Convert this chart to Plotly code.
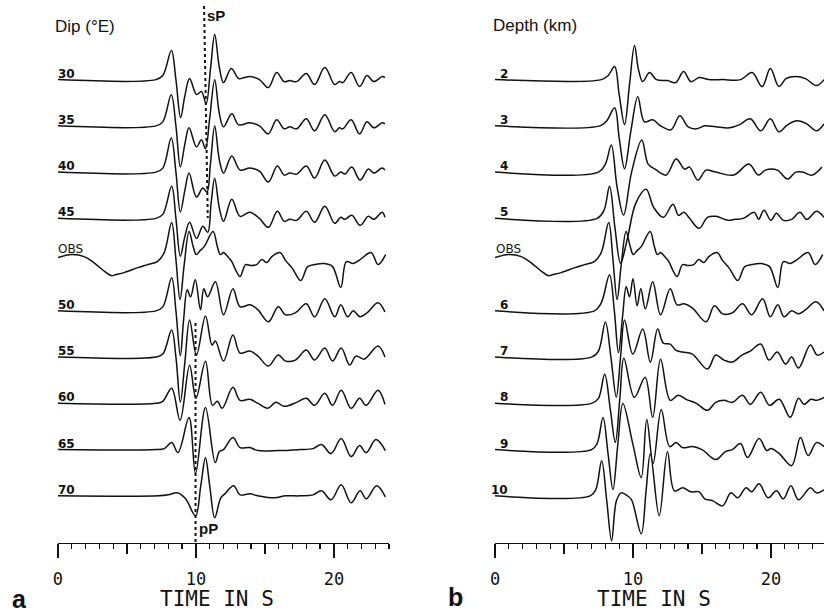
import plotly.graph_objects as go

# ---------------- data (time in s, amplitude in plot units) ----------------
DIP_LABELS = ["30", "35", "40", "45", "OBS", "50", "55", "60", "65", "70"]
DEPTH_LABELS = ["2", "3", "4", "5", "OBS", "6", "7", "8", "9", "10"]
TICK_VALUES = [0, 10, 20]
TICK_TEXT = ["0", "10", "20"]
MID_TICKS = [5, 15]

OBS = [(0, 7), (1.0, 10), (1.9, 8), (2.6, 2), (3.4, -7), (3.85, -11), (4.2, -10), (4.8, -8),
       (5.8, -3), (6.5, 0), (7.2, 3), (7.7, 12), (8.24, 42), (8.55, 5), (8.85, -35), (9.15, 0),
       (9.5, 33), (9.8, 18), (10.02, 10), (10.3, 14), (10.6, 18), (11.24, 33), (11.55, 18),
       (11.77, 10), (12.0, 12), (12.3, 8), (12.6, 3), (12.9, -6), (13.2, -12), (13.6, 0),
       (14.0, -1), (14.4, 0), (14.77, 5), (15.15, 2), (15.5, 8), (16.1, 12), (16.5, 4),
       (17.0, -4), (17.6, -16), (18.1, -2), (18.6, 0), (19.3, 1), (19.9, -2), (20.5, -23),
       (20.9, 3), (21.4, 1), (21.9, 5), (22.7, 12), (23.2, 0), (23.75, 10)]

DIP_30 = [(0, 0), (7.1, 0), (7.6, 4), (8.22, 29), (8.55, 0), (8.89, -38), (9.2, -16), (9.54, 1),
          (10.05, -15), (10.4, -12), (10.74, -24), (11.05, 10), (11.36, 45), (11.7, 12), (12.0, -3),
          (12.56, 11), (13.1, 1), (13.5, 2), (13.9, 3), (14.6, 0), (15.25, -8), (15.85, 7),
          (16.4, -2), (16.8, -1), (17.3, -2), (18.0, 6), (18.6, -5), (19.34, 12), (20.06, -5),
          (20.4, -2), (20.65, -3), (21.25, 7), (21.86, -7), (22.4, 4), (22.9, -2), (23.5, 3), (23.7, 2)]
DIP_35 = [(0, 0), (7.1, 0), (7.6, 4), (8.21, 31), (8.55, 0), (8.87, -41), (9.2, -18), (9.5, -2),
          (10.04, -21), (10.4, -14), (10.69, -23), (11.0, 8), (11.36, 46), (11.7, 12), (12.0, -1),
          (12.6, 12), (13.1, 1), (13.9, 3), (14.6, 0), (15.25, -8), (15.85, 6), (16.4, -3),
          (16.8, -1), (17.3, -3), (18.0, 7), (18.6, -5), (19.34, 11), (20.06, -6), (20.4, -2),
          (20.65, -3), (21.25, 6), (21.86, -8), (22.4, 4), (22.9, -2), (23.5, 3), (23.7, 2)]
DIP_40 = [(0, 0), (7.1, 0), (7.6, 4), (8.21, 34), (8.55, 0), (8.87, -40), (9.2, -18), (9.5, -1),
          (10.04, -25), (10.5, -16), (10.8, -20), (11.05, 8), (11.36, 46), (11.7, 12), (12.0, -1),
          (12.6, 16), (13.2, 2), (13.9, 4), (14.6, 1), (15.25, -10), (15.9, 6), (16.4, -3),
          (16.8, -1), (17.3, -2), (18.0, 6), (18.6, -6), (19.34, 12), (20.06, -4), (20.5, 0),
          (20.8, -2), (21.3, 5), (21.9, -8), (22.5, 3), (22.9, -1), (23.5, 4), (23.7, 2)]
DIP_45 = [(0, 0), (7.1, 0), (7.6, 4), (8.24, 32), (8.55, 0), (8.87, -38), (9.2, -18), (9.54, -4),
          (10.04, -20), (10.5, -8), (10.86, -14), (11.1, 15), (11.36, 40), (11.7, 10), (12.0, -3),
          (12.6, 19), (13.2, 2), (13.9, 6), (14.6, 0), (15.25, -9), (15.9, 7), (16.4, -3),
          (16.8, -1), (17.3, -2), (18.0, 7), (18.6, -4), (19.34, 12), (20.06, -5), (20.5, 1),
          (20.8, -1), (21.3, 3), (21.9, -7), (22.5, 2), (22.9, -1), (23.5, 6), (23.7, 1)]
DIP_50 = [(0, 0), (7.1, 0), (7.6, 4), (8.24, 33), (8.55, 0), (8.87, -45), (9.1, -10), (9.37, 21),
          (9.61, 14), (9.95, 31), (10.33, 1), (10.57, 22), (10.85, 14), (11.41, 29), (12.0, -4),
          (12.68, 22), (13.2, 4), (13.93, 6), (14.5, 1), (15.25, -11), (15.97, 4), (16.5, -4),
          (17.2, -2), (18.0, 7), (18.6, -6), (19.34, 12), (20.06, -6), (20.5, 6), (21.0, -6),
          (21.4, 0), (21.9, -6), (22.4, -2), (23.2, 8), (23.7, -1)]
DIP_55 = [(0, 0), (7.1, 0), (7.6, 3), (8.24, 27), (8.55, 0), (8.87, -45), (9.2, -5), (9.54, 37),
          (10.04, 2), (10.69, 41), (11.17, 12), (11.41, 16), (12.0, -4), (12.68, 22), (13.2, 4),
          (13.9, 6), (14.5, 1), (15.25, -9), (15.97, 2), (16.5, -4), (17.2, -3), (18.0, 7),
          (18.6, -3), (19.34, 9), (19.9, -4), (20.53, 9), (21.14, -8), (21.6, 1), (22.2, -2),
          (23.2, 11), (23.7, 0)]
DIP_60 = [(0, 0), (7.1, 0), (7.6, 2), (8.24, 15), (8.85, -17), (9.54, 38), (10.0, 5), (10.69, 42),
          (11.2, -2), (11.55, 2), (11.9, -5), (12.68, 16), (13.2, 3), (13.9, 4), (14.5, 0),
          (15.2, -5), (15.8, 1), (16.4, -3), (17.3, 1), (18.0, 5), (18.6, -2), (19.34, 10),
          (19.9, -2), (20.53, 13), (21.25, -5), (21.86, 5), (22.34, -2), (23.2, 13), (23.7, -1)]
DIP_65 = [(0, 0), (7.1, 0), (7.7, 1), (8.24, 7), (8.7, -3), (9.5, 32), (9.97, -24), (10.69, 42),
          (11.4, -13), (11.7, -2), (12.0, 0), (12.68, 12), (13.2, 2), (13.9, 2), (14.5, -1),
          (16.0, -1), (17.5, 0), (18.5, 1), (19.1, 5), (19.8, -4), (20.53, 11), (21.25, -7),
          (21.86, 4), (22.34, -3), (23.05, 10), (23.73, -1)]
DIP_70 = [(0, 0), (7.3, 0), (8.0, 1), (8.65, 3), (9.25, -3), (9.97, -20), (10.35, 10), (10.69, 38),
          (11.0, 10), (11.36, -22), (11.8, -2), (12.1, 2), (12.73, 10), (13.2, 1), (13.9, 2),
          (14.5, 0), (15.7, -2), (16.5, 0), (17.5, 0), (18.5, 1), (19.1, 5), (19.8, -4),
          (20.53, 11), (21.25, -7), (21.9, 5), (22.34, -3), (23.1, 10), (23.73, -1)]

DEPTH_2 = [(0, 0), (7.7, 0), (8.2, 4), (8.67, 13), (9.0, -15), (9.39, -45), (9.75, -5), (10.11, 34),
           (10.4, 10), (10.71, -2), (11.2, 7), (11.7, 0), (12.5, -1), (13.1, -3), (13.67, 8),
           (14.2, -2), (14.8, 2), (15.5, 0), (16.5, 0), (17.8, 0), (18.64, 7), (19.36, -7),
           (19.96, 11), (20.58, -7), (21.1, 1), (21.8, 3), (22.5, 1), (23.3, -6), (23.85, 0)]
DEPTH_3 = [(0, 0), (7.6, 0), (8.1, 5), (8.67, 18), (9.0, -12), (9.39, -43), (9.85, -5), (10.35, 29),
           (10.83, 4), (11.43, 6), (12.0, 0), (12.75, -4), (13.4, 10), (14.0, -1), (14.6, -3),
           (15.2, 0), (16.0, -1), (17.0, -2), (17.7, 1), (18.5, 7), (19.26, -5), (19.96, 7),
           (20.58, -6), (21.2, 1), (21.9, 5), (22.6, 2), (23.3, -5), (23.85, 2)]
DEPTH_4 = [(0, 0), (7.5, 0), (8.0, 8), (8.43, 27), (8.85, -15), (9.32, -43), (9.9, 0), (10.64, 32),
           (11.1, 8), (11.6, 3), (12.4, -3), (13.13, 13), (13.74, 3), (14.1, 5), (14.7, -8),
           (15.3, 2), (16.0, 0), (17.3, -3), (18.4, 8), (19.1, -3), (19.6, 2), (20.46, 2),
           (21.2, -7), (21.8, 0), (22.3, 0), (23.0, -3), (23.7, 5)]
DEPTH_5 = [(0, 0), (7.4, 0), (7.9, 8), (8.3, 32), (8.7, -10), (9.1, -45), (9.6, -20), (10.2, 15),
           (10.95, 29), (11.5, 11), (12.2, 1), (12.9, 14), (13.3, 3), (13.7, 6), (14.1, 0),
           (14.8, -10), (15.4, 1), (16.0, 2), (16.9, -2), (17.4, -1), (18.0, 0), (18.8, 6),
           (19.1, -1), (19.5, 8), (20.0, -2), (20.4, 5), (20.9, -2), (21.5, -1), (22.1, 6),
           (22.6, -1), (23.3, 7), (23.85, 1)]
DEPTH_6 = [(0, 0), (7.2, 0), (7.7, 8), (8.3, 36), (8.65, 0), (8.95, -42), (9.25, -5), (9.51, 24),
           (9.75, 14), (10.0, 32), (10.3, 5), (10.57, 22), (10.9, 2), (11.43, 29), (12.0, -4),
           (12.7, 22), (13.2, 6), (13.7, 7), (14.3, 3), (15.3, -11), (15.9, 5), (16.5, -3),
           (17.2, -2), (17.94, 7), (18.6, -4), (19.4, 12), (19.95, -6), (20.5, 6), (20.95, -6),
           (21.5, 0), (22.0, -3), (22.5, 1), (23.27, 9), (23.85, 0)]
DEPTH_7 = [(0, 0), (7.0, 0), (7.5, 6), (8.0, 35), (8.4, 0), (8.79, -40), (9.1, 0), (9.39, 37),
           (9.99, 3), (10.71, 28), (11.26, -5), (11.79, 28), (12.2, 14), (12.7, 13), (13.1, 7),
           (13.6, 5), (14.3, 3), (15.4, -12), (16.0, 2), (16.6, -3), (17.2, -5), (17.9, 2),
           (18.5, 6), (19.26, 13), (19.86, -3), (20.46, 5), (21.06, -7), (21.5, 0), (22.0, -11),
           (22.86, 12), (23.35, 2), (23.85, 5)]
DEPTH_8 = [(0, 0), (7.0, 0), (7.5, 5), (7.95, 29), (8.35, -5), (8.72, -39), (9.05, 5), (9.34, 45),
           (10.1, 6), (10.88, 26), (11.43, -14), (12.0, 44), (12.7, 3), (13.27, 8), (13.85, 4),
           (14.6, 0), (15.4, -7), (16.0, 1), (16.6, 3), (17.2, 1), (17.94, 8), (18.5, -1),
           (19.26, 11), (19.9, -2), (20.6, 4), (21.4, -14), (22.0, 5), (22.4, -1), (22.9, 4),
           (23.3, 3), (23.85, 6)]
DEPTH_9 = [(0, 0), (7.0, 0), (7.4, 6), (7.83, 32), (8.2, -5), (8.55, -40), (8.9, 5), (9.27, 46),
           (10.0, 5), (10.6, -28), (11.0, 30), (11.46, -14), (12.05, 40), (12.66, 3), (13.13, 7),
           (13.6, 2), (14.3, 3), (15.0, 0), (16.0, -10), (16.7, -2), (17.2, 0), (17.8, 6),
           (18.3, -8), (19.14, 11), (19.7, -1), (20.0, 1), (20.6, -4), (21.5, -16), (22.14, 12),
           (22.7, -6), (23.3, 7), (23.85, 3)]
DEPTH_10 = [(0, 0), (6.9, 0), (7.3, 6), (7.73, 35), (8.1, -5), (8.45, -45), (8.8, -5), (9.15, 3),
            (9.6, 0), (9.9, -4), (10.6, -38), (10.95, 5), (11.26, 42), (11.9, -20), (12.5, 44),
            (13.0, 5), (13.6, 8), (14.2, 4), (14.8, 4), (15.2, -3), (15.8, -5), (16.5, -10),
            (17.1, 3), (17.6, -2), (18.2, 8), (18.6, 4), (19.14, 12), (19.8, -2), (20.4, 5),
            (20.9, -3), (21.45, 10), (22.0, -4), (22.86, 8), (23.3, 3), (23.85, 6)]

DIP_TRACES = [DIP_30, DIP_35, DIP_40, DIP_45, OBS, DIP_50, DIP_55, DIP_60, DIP_65, DIP_70]
DEPTH_TRACES = [DEPTH_2, DEPTH_3, DEPTH_4, DEPTH_5, OBS, DEPTH_6, DEPTH_7, DEPTH_8, DEPTH_9, DEPTH_10]

# ---------------- layout constants ----------------
W, H = 824, 612
TOP_BASE_PX = 79.6      # pixel row of first trace baseline
ROW_STEP = 46.25        # spacing between traces (plot units == px)
PX_PER_S = 13.88
A_LEFT_PX = 53.3
B_LEFT_PX = 493.0
AXIS_PX = 542.7
T_MAX_A = 24.0
T_MAX_B = (W - B_LEFT_PX) / PX_PER_S


def y_of_px(p):
    return TOP_BASE_PX - p


def row_base(i):
    return -i * ROW_STEP


fig = go.Figure()
LINE = dict(color="#111111", width=1.5, shape="spline", smoothing=1.0)

for xa, traces in (("x", DIP_TRACES), ("x2", DEPTH_TRACES)):
    for i, tr in enumerate(traces):
        fig.add_trace(go.Scatter(
            x=[p[0] for p in tr],
            y=[row_base(i) + p[1] for p in tr],
            mode="lines", line=LINE, xaxis=xa, yaxis="y",
            hoverinfo="skip", showlegend=False))

axis_pos = 1 - AXIS_PX / H
tick_font = dict(family="DejaVu Sans Mono", size=17, color="#111111")
common = dict(anchor="free", position=axis_pos, showgrid=False, zeroline=False, fixedrange=True)
fig.update_layout(
    width=W, height=H, margin=dict(l=0, r=0, t=0, b=0),
    paper_bgcolor="white", plot_bgcolor="white", showlegend=False,
    xaxis=dict(domain=[A_LEFT_PX / W, (A_LEFT_PX + T_MAX_A * PX_PER_S) / W], range=[0, T_MAX_A],
               showline=True, linecolor="#111111", linewidth=1.5,
               tickmode="array", tickvals=TICK_VALUES, ticktext=TICK_TEXT,
               ticks="outside", ticklen=14, tickwidth=1.5, tickcolor="#111111",
               tickfont=tick_font, ticklabelstandoff=6,
               minor=dict(dtick=1, tick0=0, ticks="outside", ticklen=5, tickwidth=1.3,
                          tickcolor="#111111", showgrid=False),
               **common),
    xaxis2=dict(domain=[B_LEFT_PX / W, 1.0], range=[0, T_MAX_B],
                showline=True, linecolor="#111111", linewidth=1.5,
                tickmode="array", tickvals=TICK_VALUES, ticktext=TICK_TEXT,
                ticks="outside", ticklen=14, tickwidth=1.5, tickcolor="#111111",
                tickfont=tick_font, ticklabelstandoff=6,
                minor=dict(dtick=1, tick0=0, ticks="outside", ticklen=5, tickwidth=1.3,
                           tickcolor="#111111", showgrid=False),
                **common),
    xaxis3=dict(overlaying="x", domain=[A_LEFT_PX / W, (A_LEFT_PX + T_MAX_A * PX_PER_S) / W],
                range=[0, T_MAX_A], tickmode="array", tickvals=MID_TICKS, ticks="outside",
                ticklen=10, tickwidth=1.5, tickcolor="#111111", showticklabels=False,
                showline=False, **common),
    xaxis4=dict(overlaying="x2", domain=[B_LEFT_PX / W, 1.0], range=[0, T_MAX_B],
                tickmode="array", tickvals=MID_TICKS, ticks="outside",
                ticklen=10, tickwidth=1.5, tickcolor="#111111", showticklabels=False,
                showline=False, **common),
    yaxis=dict(domain=[0, 1], range=[y_of_px(H), y_of_px(0)], visible=False, fixedrange=True),
)
# invisible traces so overlay axes render
fig.add_trace(go.Scatter(x=[0], y=[y_of_px(H) - 10], xaxis="x3", yaxis="y", mode="markers",
                         marker=dict(opacity=0), showlegend=False, hoverinfo="skip"))
fig.add_trace(go.Scatter(x=[0], y=[y_of_px(H) - 10], xaxis="x4", yaxis="y", mode="markers",
                         marker=dict(opacity=0), showlegend=False, hoverinfo="skip"))

# dotted phase lines
DOT = dict(color="#111111", width=2, dash="dot")
fig.add_shape(type="line", xref="x", yref="y", x0=10.59, y0=y_of_px(6), x1=10.86, y1=y_of_px(218),
              line=DOT, layer="below")
fig.add_shape(type="line", xref="x", yref="y", x0=9.97, y0=y_of_px(323), x1=9.97, y1=y_of_px(542),
              line=DOT, layer="below")

ann = []
lab_font = dict(family="DejaVu Sans", size=12, color="#111111")
for i, lab in enumerate(DIP_LABELS):
    if lab == "OBS":
        ann.append(dict(x=0, y=row_base(i) + OBS[0][1], xref="x", yref="y", text=lab,
                        showarrow=False, xanchor="left", yanchor="bottom", xshift=-2, yshift=0,
                        font=lab_font))
    else:
        ann.append(dict(x=0, y=row_base(i), xref="x", yref="y", text="<b>%s</b>" % lab,
                        showarrow=False, xanchor="left", yanchor="bottom", xshift=-2, yshift=-3,
                        font=lab_font))
for i, lab in enumerate(DEPTH_LABELS):
    if lab == "OBS":
        ann.append(dict(x=0.1, y=row_base(i) + OBS[0][1], xref="x2", yref="y", text=lab,
                        showarrow=False, xanchor="left", yanchor="bottom", xshift=-2, yshift=0,
                        font=lab_font))
    else:
        ann.append(dict(x=1.1, y=row_base(i), xref="x2", yref="y", text="<b>%s</b>" % lab,
                        showarrow=False, xanchor="right", yanchor="bottom", yshift=-3, font=lab_font))

title_font = dict(family="Liberation Sans", size=17, color="#111111")
ann += [
    dict(x=48 / W, y=1 - 26.5 / H, xref="paper", yref="paper", text="Dip (°E)", showarrow=False,
         xanchor="left", yanchor="middle", font=title_font),
    dict(x=489 / W, y=1 - 26 / H, xref="paper", yref="paper", text="Depth (km)", showarrow=False,
         xanchor="left", yanchor="middle", font=title_font),
    dict(x=212.5 / W, y=1 - 15 / H, xref="paper", yref="paper", text="<b>sP</b>", showarrow=False,
         xanchor="center", yanchor="middle", font=dict(family="Liberation Sans", size=15, color="#111111")),
    dict(x=205 / W, y=1 - 528 / H, xref="paper", yref="paper", text="<b>pP</b>", showarrow=False,
         xanchor="center", yanchor="middle", font=dict(family="Liberation Sans", size=15, color="#111111")),
    dict(x=15 / W, y=1 - 599 / H, xref="paper", yref="paper", text="<b>a</b>", showarrow=False,
         xanchor="center", yanchor="middle", font=dict(family="Liberation Sans", size=25, color="#111111")),
    dict(x=453 / W, y=1 - 597 / H, xref="paper", yref="paper", text="<b>b</b>", showarrow=False,
         xanchor="center", yanchor="middle", font=dict(family="Liberation Sans", size=25, color="#111111")),
    dict(x=213.5 / W, y=1 - 599 / H, xref="paper", yref="paper", text="TIME IN S", showarrow=False,
         xanchor="center", yanchor="middle", font=dict(family="DejaVu Sans Mono", size=21, color="#111111")),
    dict(x=652.7 / W, y=1 - 599 / H, xref="paper", yref="paper", text="TIME IN S", showarrow=False,
         xanchor="center", yanchor="middle", font=dict(family="DejaVu Sans Mono", size=21, color="#111111")),
]
fig.update_layout(annotations=ann)

fig.write_html("out.html", config={"displayModeBar": False, "staticPlot": True},
               post_script="document.body.style.margin='0px';document.body.style.overflow='hidden';")
